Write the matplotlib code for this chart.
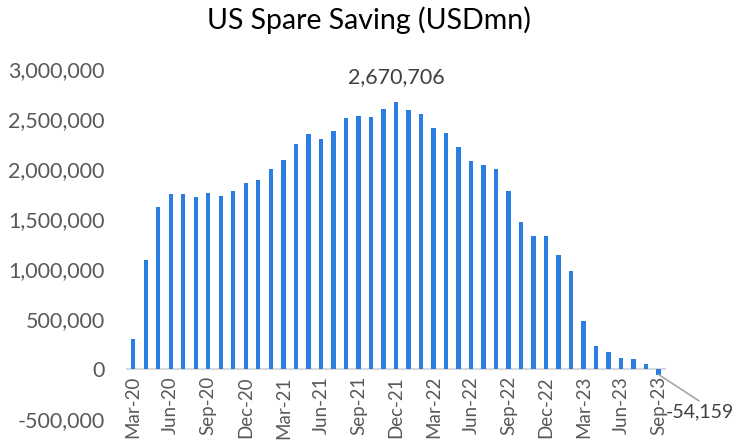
import matplotlib
matplotlib.use("Agg")
import matplotlib.pyplot as plt
from matplotlib.ticker import FuncFormatter

months = ["Mar-20","Apr-20","May-20","Jun-20","Jul-20","Aug-20","Sep-20","Oct-20","Nov-20","Dec-20",
          "Jan-21","Feb-21","Mar-21","Apr-21","May-21","Jun-21","Jul-21","Aug-21","Sep-21","Oct-21","Nov-21","Dec-21",
          "Jan-22","Feb-22","Mar-22","Apr-22","May-22","Jun-22","Jul-22","Aug-22","Sep-22","Oct-22","Nov-22","Dec-22",
          "Jan-23","Feb-23","Mar-23","Apr-23","May-23","Jun-23","Jul-23","Aug-23","Sep-23"]
spare_saving = [297000, 1090000, 1623000, 1750000, 1750000, 1717000, 1757000, 1730000, 1783000, 1863000,
                1890000, 1997000, 2090000, 2247000, 2350000, 2300000, 2377000, 2513000, 2530000, 2517000, 2597000, 2670706,
                2590000, 2553000, 2407000, 2360000, 2220000, 2080000, 2040000, 2000000, 1780000, 1473000, 1330000, 1330000,
                1137000, 980000, 480000, 233000, 167000, 110000, 100000, 50000, -54159]
yticks = [-500000, 0, 500000, 1000000, 1500000, 2000000, 2500000, 3000000]

plt.rcParams['font.family'] = ['Lato', 'DejaVu Sans']

fig = plt.figure(figsize=(7.38, 4.45), dpi=100)
ax = fig.add_axes([0.172, 0.058, 0.729, 0.787])

x = list(range(len(months)))
ax.bar(x, spare_saving, width=0.35, color="#2A7DE1", zorder=3)

ax.set_xlim(-0.5, len(months) - 0.5)
ax.set_ylim(-500000, 3000000)
ax.set_yticks(yticks)
ax.yaxis.set_major_formatter(FuncFormatter(lambda v, p: f"{int(v):,}"))
ax.tick_params(axis='y', length=0, labelsize=15.5, labelcolor="#595959", pad=16)

ax.set_xticks(x[::3])
ax.set_xticklabels(months[::3])
ax.tick_params(axis='x', length=0, pad=5, labelsize=13.5, labelcolor="#595959", labelrotation=90)

for s in ["top", "right", "left"]:
    ax.spines[s].set_visible(False)
ax.spines["bottom"].set_position(("data", 0))
ax.spines["bottom"].set_color("#D9D9D9")
ax.spines["bottom"].set_linewidth(1.5)

# peak label
pk = spare_saving.index(max(spare_saving))
ax.annotate(f"{spare_saving[pk]:,}", xy=(pk, spare_saving[pk]), xytext=(0, 11),
            textcoords="offset points", ha="center", va="bottom", fontsize=15.5, color="#404040")

# last value label with leader line
last = len(spare_saving) - 1
ax.annotate(f"{spare_saving[last]:,}", xy=(last, spare_saving[last]), xytext=(5, -27),
            textcoords="offset points", ha="left", va="center", fontsize=14, color="#404040",
            arrowprops=dict(arrowstyle="-", color="#A6A6A6", lw=1.2, shrinkA=0, shrinkB=0,
                            relpos=(0.55, 1.0)),
            annotation_clip=False)

fig.text(0.5, 0.955, "US Spare Saving (USDmn)", ha="center", va="center", fontsize=20.5, color="#000000")

fig.savefig("out.png", dpi=100)
